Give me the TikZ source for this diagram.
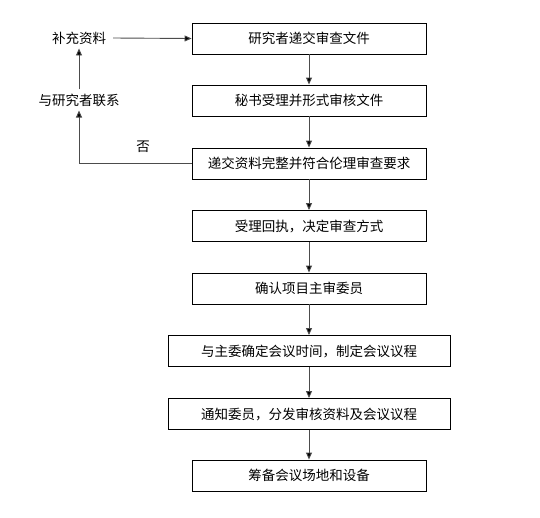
\documentclass[tikz,border=0pt]{standalone}
\usepackage{fontspec}
\setmainfont{Noto Sans CJK SC}
\usetikzlibrary{arrows.meta}

\begin{document}
\begin{tikzpicture}[x=1pt, y=-1pt,
    every node/.style={font=\fontsize{13.5}{14}\selectfont},
    box/.style={draw, line width=0.9pt, minimum width=234pt, minimum height=31pt, inner sep=0pt},
    widebox/.style={box, minimum width=282pt},
    flow/.style={draw=black!70, line width=0.9pt, -{Triangle[length=7pt, width=6pt, fill=black]}}]
    \useasboundingbox (0,0) rectangle (540,517);

    % main chain of boxes
    \node[box] (submit) at (309,38.5) {研究者递交审查文件};
    \node[box] (accept) at (309,100.5) {秘书受理并形式审核文件};
    \node[box] (check) at (309,163.5) {递交资料完整并符合伦理审查要求};
    \node[box] (receipt) at (309,226) {受理回执，决定审查方式};
    \node[box] (reviewer) at (309,288.5) {确认项目主审委员};
    \node[widebox] (schedule) at (309,351) {与主委确定会议时间，制定会议议程};
    \node[widebox] (notify) at (309,414) {通知委员，分发审核资料及会议议程};
    \node[box] (prepare) at (309,475.5) {筹备会议场地和设备};

    % side loop
    \node[inner sep=4pt] (supplement) at (79,38) {补充资料};
    \node[inner sep=4pt] (contact) at (79,100) {与研究者联系};
    \node (no) at (143,147) {否};

    % Draw arrows
    \draw[flow] (submit) -- (accept);
    \draw[flow] (accept) -- (check);
    \draw[flow] (check) -- (receipt);
    \draw[flow] (receipt) -- (reviewer);
    \draw[flow] (reviewer) -- (schedule);
    \draw[flow] (schedule) -- (notify);
    \draw[flow] (notify) -- (prepare);

    \draw[flow] (check.west) -| (contact.south);
    \draw[flow] (contact) -- (supplement);
    \draw[flow] (supplement.east) ++(3,0) -- (submit.west);

\end{tikzpicture}
\end{document}
